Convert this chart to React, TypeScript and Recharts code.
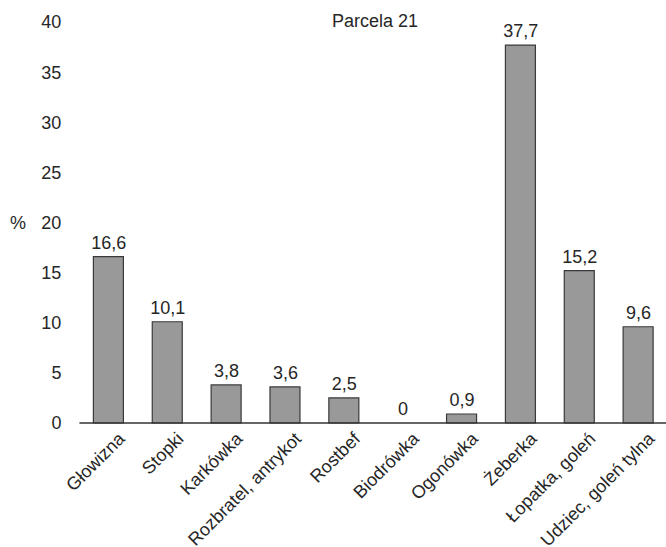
import React from 'react';
import { ComposedChart, Bar, Line, XAxis, YAxis, LabelList } from 'recharts';

const categories = [
  'Głowizna',
  'Stopki',
  'Karkówka',
  'Rozbratel, antrykot',
  'Rostbef',
  'Biodrówka',
  'Ogonówka',
  'Żeberka',
  'Łopatka, goleń',
  'Udziec, goleń tylna',
];
const values = [16.6, 10.1, 3.8, 3.6, 2.5, 0, 0.9, 37.7, 15.2, 9.6];
const yTicks = [0, 5, 10, 15, 20, 25, 30, 35, 40];
const title = 'Parcela 21';
const yLabel = '%';

const data = categories.map((name, i) => ({ name, value: values[i] }));

const FONT = '"Liberation Sans", Arial, sans-serif';
const TEXT = '#262626';

const XTick = (props: any) => {
  const { x, y, payload } = props;
  return (
    <text
      transform={`translate(${x + 17},${y + 17}) rotate(-45)`}
      textAnchor="end"
      fontSize={18}
      fontFamily={FONT}
      fill={TEXT}
    >
      {payload.value}
    </text>
  );
};

const fmt = (v: any) => String(v).replace('.', ',');

const ValueLabel = (p: any) => {
  const { x, y, value } = p;
  if (x == null || y == null) return null;
  return (
    <text
      x={Number(x)}
      y={Number(y) - 8}
      textAnchor="middle"
      fontSize={18}
      fontFamily={FONT}
      fill={TEXT}
    >
      {fmt(value)}
    </text>
  );
};

export default function App() {
  return (
    <div style={{ position: 'absolute', left: 0, top: 0, width: 666, height: 547, fontFamily: FONT }}>
      <ComposedChart
        width={666}
        height={547}
        data={data}
        margin={{ top: 22, right: -2, bottom: 123, left: 0 }}
        barSize={30}
      >
        <XAxis
          dataKey="name"
          interval={0}
          height={1}
          tick={<XTick />}
          tickLine={false}
          tickSize={0}
          tickMargin={0}
          axisLine={{ stroke: '#333333', strokeWidth: 1.5 }}
        />
        <YAxis
          domain={[0, 40]}
          ticks={yTicks}
          width={79.4}
          axisLine={false}
          tickLine={false}
          tickSize={0}
          tickMargin={18}
          interval={0}
          tick={{ fontSize: 18, fontFamily: FONT, fill: TEXT }}
          label={{ value: yLabel, position: 'insideLeft', offset: 10, fontSize: 18, fontFamily: FONT, fill: TEXT }}
        />
        <Bar dataKey="value" fill="#999999" stroke="#3a3a3a" strokeWidth={1.2} isAnimationActive={false} />
        <Line
          dataKey="value"
          stroke="none"
          dot={false}
          activeDot={false}
          legendType="none"
          isAnimationActive={false}
        >
          <LabelList dataKey="value" content={<ValueLabel />} />
        </Line>
      </ComposedChart>
      <div
        style={{
          position: 'absolute',
          left: 0,
          width: 750,
          top: 10,
          textAlign: 'center',
          fontSize: 18,
          lineHeight: '22px',
          color: TEXT,
          pointerEvents: 'none',
        }}
      >
        {title}
      </div>
    </div>
  );
}
